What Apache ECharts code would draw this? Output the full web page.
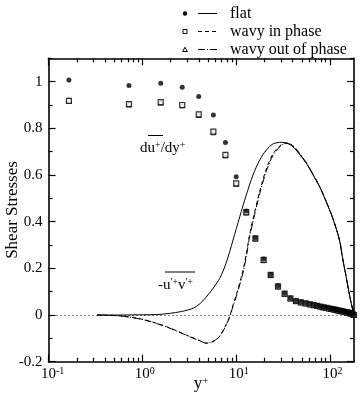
<!DOCTYPE html>
<html><head><meta charset="utf-8">
<script src="https://cdn.jsdelivr.net/npm/echarts@6/dist/echarts.min.js"></script>
<style>html,body{margin:0;padding:0;background:#fff}#c{width:360px;height:396px}</style>
</head><body><div id="c"></div>
<script>
// ---- data ----
const dotYplus = [0.165, 0.72, 1.57, 2.66, 3.99, 5.71, 7.68, 10.0, 12.8, 16.0, 19.6, 23.3, 27.9, 32.8, 37.8, 43.3,
  49, 55, 61, 67, 73, 79, 85, 91, 97, 103, 109, 115, 121, 127, 133, 139, 145, 151, 157, 163, 169, 175, 180];
const dudyFlat = [1.007, 0.983, 0.993, 0.976, 0.936, 0.857, 0.739, 0.593, 0.446, 0.331, 0.240, 0.174, 0.125, 0.093, 0.073, 0.061,
  0.0556, 0.051, 0.047, 0.0435, 0.040, 0.037, 0.034, 0.032, 0.029, 0.027, 0.025, 0.023, 0.021, 0.019, 0.0175, 0.016, 0.014, 0.0125, 0.011, 0.009, 0.007, 0.004, 0.001];
const dudyInPhase = [0.918, 0.904, 0.912, 0.900, 0.860, 0.786, 0.686, 0.564, 0.441, 0.328, 0.236, 0.172, 0.123, 0.092, 0.071, 0.060,
  0.0545, 0.050, 0.046, 0.0425, 0.039, 0.036, 0.033, 0.031, 0.028, 0.026, 0.024, 0.022, 0.020, 0.018, 0.0165, 0.015, 0.013, 0.0115, 0.010, 0.008, 0.006, 0.003, 0.000];
const dudyOutPhase = [0.920, 0.902, 0.910, 0.898, 0.857, 0.783, 0.684, 0.562, 0.439, 0.327, 0.235, 0.171, 0.122, 0.091, 0.071, 0.059,
  0.0545, 0.050, 0.046, 0.0425, 0.039, 0.036, 0.033, 0.031, 0.028, 0.026, 0.024, 0.022, 0.020, 0.018, 0.0165, 0.015, 0.013, 0.0115, 0.010, 0.008, 0.006, 0.003, 0.000];

const uvFlatYplus = [0.33, 0.6, 1.0, 1.42, 1.96, 2.6, 3.47, 4.2, 5.0, 5.8, 6.67, 7.8, 9.25, 10.9, 12.8, 15.1, 17.8, 20.9, 24.6, 30.2,
  35.0, 40.2, 47.0, 55.8, 66.0, 77.3, 91.0, 107, 126, 137, 146, 155, 165, 175, 180];
const uvFlat = [0, 0, 0.001, 0.002, 0.007, 0.015, 0.029, 0.052, 0.086, 0.12, 0.157, 0.222, 0.321, 0.421, 0.514, 0.6, 0.664, 0.707, 0.733, 0.740,
  0.736, 0.721, 0.69, 0.65, 0.60, 0.55, 0.485, 0.414, 0.321, 0.236, 0.18, 0.121, 0.065, 0.021, 0];

const uvWavyYplus = [0.33, 0.58, 1.02, 1.81, 2.95, 4.0, 4.82, 5.5, 6.4, 7.4, 8.5, 9.2, 10.0, 11.8, 12.8, 13.9, 15.1, 17.8, 20.9, 24.6, 30.2,
  34.2, 40.2, 47.0, 55.8, 66.0, 77.3, 91.0, 107, 126, 137, 146, 155, 165, 175, 180];
const uvInPhase = [0, -0.004, -0.019, -0.05, -0.086, -0.108, -0.121, -0.116, -0.1, -0.06, -0.007, 0.04, 0.085, 0.19, 0.26, 0.345, 0.41, 0.53, 0.625, 0.69, 0.73,
  0.737, 0.725, 0.693, 0.652, 0.602, 0.551, 0.486, 0.415, 0.322, 0.237, 0.181, 0.122, 0.066, 0.021, 0];
const uvOutPhase = [0, -0.004, -0.02, -0.051, -0.087, -0.109, -0.12, -0.115, -0.098, -0.062, -0.01, 0.035, 0.078, 0.18, 0.25, 0.335, 0.40, 0.52, 0.615, 0.683, 0.727,
  0.736, 0.726, 0.694, 0.653, 0.603, 0.552, 0.487, 0.415, 0.322, 0.237, 0.181, 0.122, 0.066, 0.021, 0];

const xMajorTicks = [0.1, 1, 10, 100];
const xMinorTicks = [0.2,0.3,0.4,0.5,0.6,0.7,0.8,0.9, 2,3,4,5,6,7,8,9, 20,30,40,50,60,70,80,90];
const yMajorTicks = [-0.2, 0, 0.2, 0.4, 0.6, 0.8, 1.0];
const yMinorTicks = [-0.1, 0.1, 0.3, 0.5, 0.7, 0.9, 1.1];
const legendNames = ['flat', 'wavy in phase', 'wavy out of phase'];
const xTitle = 'y{sup|+}';
const yTitle = 'Shear Stresses';

// ---- chart ----
const FONT = '"Liberation Serif", "Times New Roman", serif';
const chart = echarts.init(document.getElementById('c'), null, {renderer: 'canvas'});
const zip = (xs, ys) => xs.map((x, i) => [x, ys[i]]);
const axisLineStyle = {color: '#000', width: 1.6};
const tickStyle = {color: '#000', width: 1.2};

function xAxisDef(pos, major, withLabel) {
  return {
    type: 'log', logBase: 10, min: 0.1, max: 180, position: pos, gridIndex: 0,
    axisLine: {show: major, onZero: false, lineStyle: axisLineStyle},
    axisTick: {show: true, inside: true, length: major ? 7 : 4, customValues: major ? xMajorTicks : xMinorTicks, lineStyle: tickStyle},
    minorTick: {show: false}, splitLine: {show: false},
    axisLabel: withLabel ? {
      show: true, customValues: xMajorTicks, margin: 5, color: '#000', fontFamily: FONT, fontSize: 15,
      formatter: v => { const e = Math.round(Math.log10(v)); return '{g|' + e + '}10{sup|' + e + '}'; },
      rich: {sup: {fontSize: 10, fontFamily: FONT, color: '#000', verticalAlign: 'top', lineHeight: 10},
             g: {fontSize: 10, fontFamily: FONT, color: 'rgba(0,0,0,0)', verticalAlign: 'top', lineHeight: 10}}
    } : {show: false}
  };
}
function yAxisDef(pos, major, withLabel) {
  return {
    type: 'value', min: -0.2, max: 1.1, position: pos, gridIndex: 0,
    axisLine: {show: major, onZero: false, lineStyle: axisLineStyle},
    axisTick: {show: true, inside: true, length: major ? 7 : 4, customValues: major ? yMajorTicks : yMinorTicks, lineStyle: tickStyle},
    minorTick: {show: false}, splitLine: {show: false},
    axisLabel: withLabel ? {
      show: true, customValues: yMajorTicks, margin: 6, color: '#000', fontFamily: FONT, fontSize: 15,
      formatter: v => String(+(+v).toFixed(1))
    } : {show: false}
  };
}

const option = {
  animation: false,
  backgroundColor: '#fff',
  grid: {left: 48.5, right: 6, top: 58.3, bottom: 34.3, containLabel: false, outerBoundsMode: 'none'},
  xAxis: [xAxisDef('bottom', true, true), xAxisDef('bottom', false, false), xAxisDef('top', true, false), xAxisDef('top', false, false)],
  yAxis: [yAxisDef('left', true, true), yAxisDef('left', false, false), yAxisDef('right', true, false), yAxisDef('right', false, false)],
  series: [
    {name: legendNames[0] + ' uv', type: 'line', data: zip(uvFlatYplus, uvFlat), showSymbol: false, smooth: 0.3,
     lineStyle: {color: '#000', width: 1}, z: 3,
     markLine: {silent: true, symbol: ['none', 'none'], label: {show: false},
       lineStyle: {color: '#000', width: 1, type: [1, 3]}, data: [{yAxis: 0}]}},
    {name: legendNames[1] + ' uv', type: 'line', data: zip(uvWavyYplus, uvInPhase), showSymbol: false, smooth: 0.3,
     lineStyle: {color: '#000', width: 1, type: [4, 3]}, z: 3},
    {name: legendNames[2] + ' uv', type: 'line', data: zip(uvWavyYplus, uvOutPhase), showSymbol: false, smooth: 0.3,
     lineStyle: {color: '#000', width: 1, type: [7, 2, 1, 2]}, z: 3},
    {name: legendNames[2], type: 'scatter', data: zip(dotYplus, dudyOutPhase), symbol: 'triangle', symbolSize: 5,
     itemStyle: {color: '#fff', borderColor: '#000', borderWidth: 1}, z: 4},
    {name: legendNames[1], type: 'scatter', data: zip(dotYplus, dudyInPhase), symbol: 'rect', symbolSize: 5,
     itemStyle: {color: '#fff', borderColor: '#000', borderWidth: 1.2}, z: 5},
    {name: legendNames[0], type: 'scatter', data: zip(dotYplus, dudyFlat), symbol: 'circle', symbolSize: 5,
     itemStyle: {color: '#000'}, z: 6}
  ],
  graphic: [
    // axis titles
    {type: 'text', x: 12.5, y: 210, rotation: Math.PI / 2, style: {text: yTitle, fontFamily: FONT, fontSize: 17, fill: '#000', align: 'center', verticalAlign: 'middle'}},
    {type: 'text', x: 201, y: 384, style: {text: xTitle, fontFamily: FONT, fontSize: 17, fill: '#000', align: 'center', verticalAlign: 'middle',
      rich: {sup: {fontSize: 11, fontFamily: FONT, fill: '#000', verticalAlign: 'top', lineHeight: 11}}}},
    // legend
    {type: 'circle', shape: {cx: 185, cy: 13.5, r: 2.2}, style: {fill: '#000'}},
    {type: 'line', shape: {x1: 198, y1: 13.5, x2: 217, y2: 13.5}, style: {stroke: '#000', lineWidth: 1}},
    {type: 'text', x: 230, y: 13.5, style: {text: legendNames[0], fontFamily: FONT, fontSize: 16, fill: '#000', verticalAlign: 'middle'}},
    {type: 'rect', shape: {x: 183, y: 29.5, width: 4, height: 4}, style: {fill: '#fff', stroke: '#000', lineWidth: 1}},
    {type: 'line', shape: {x1: 198, y1: 31.5, x2: 217, y2: 31.5}, style: {stroke: '#000', lineWidth: 1, lineDash: [4, 3]}},
    {type: 'text', x: 230, y: 31.5, style: {text: legendNames[1], fontFamily: FONT, fontSize: 16, fill: '#000', verticalAlign: 'middle'}},
    {type: 'polygon', shape: {points: [[185, 47.3], [187.4, 51.5], [182.6, 51.5]]}, style: {fill: '#fff', stroke: '#000', lineWidth: 1}},
    {type: 'line', shape: {x1: 198, y1: 49.5, x2: 217, y2: 49.5}, style: {stroke: '#000', lineWidth: 1, lineDash: [7, 2, 1, 2]}},
    {type: 'text', x: 230, y: 49.5, style: {text: legendNames[2], fontFamily: FONT, fontSize: 16, fill: '#000', verticalAlign: 'middle'}},
    // annotations
    {type: 'text', x: 140, y: 148, z: 10, style: {text: 'du{sup|+}/dy{sup|+}', fontFamily: FONT, fontSize: 15, fill: '#000', verticalAlign: 'middle',
      rich: {sup: {fontSize: 10, fontFamily: FONT, fill: '#000', verticalAlign: 'top', lineHeight: 10}}}},
    {type: 'line', z: 10, shape: {x1: 148, y1: 135.5, x2: 163, y2: 135.5}, style: {stroke: '#000', lineWidth: 1}},
    {type: 'text', x: 158, y: 285, z: 10, style: {text: '-u{sup|\'+}v{sup|\'+}', fontFamily: FONT, fontSize: 15, fill: '#000', verticalAlign: 'middle',
      rich: {sup: {fontSize: 10, fontFamily: FONT, fill: '#000', verticalAlign: 'top', lineHeight: 10}}}},
    {type: 'line', z: 10, shape: {x1: 165, y1: 272, x2: 195, y2: 272}, style: {stroke: '#000', lineWidth: 1}}
  ]
};
chart.setOption(option);
</script></body></html>
